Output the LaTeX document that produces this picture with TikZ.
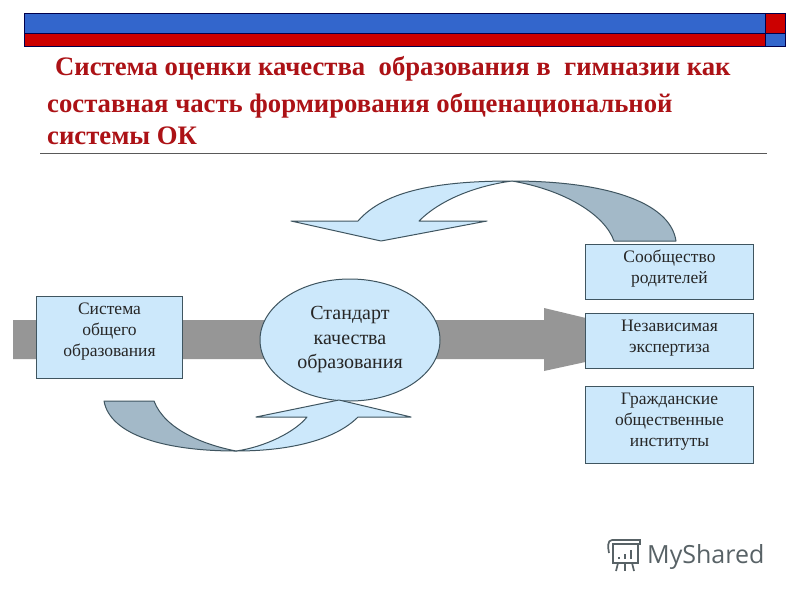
\documentclass[tikz,border=0pt]{standalone}
\usepackage{fontspec}
\setmainfont{Liberation Serif}
\newfontfamily\logofont{Open Sans}
\usetikzlibrary{shapes.geometric}
\definecolor{barblue}{HTML}{3366CC}
\definecolor{barred}{HTML}{CC0000}
\definecolor{titlered}{HTML}{AC1216}
\definecolor{boxblue}{HTML}{CCE8FB}
\definecolor{boxline}{HTML}{3F5560}
\definecolor{tailblue}{HTML}{A3B9C8}
\definecolor{bandgrey}{HTML}{969696}
\definecolor{logogrey}{HTML}{586266}
\newcommand{\boxpad}[1]{\rule[-#1pt]{0pt}{0pt}}
\begin{document}
\begin{tikzpicture}[x=1pt, y=-1pt, align=center,
			bar/.style={draw=black!70!blue, line width=0.7pt},
			titleline/.style={anchor=base west, inner sep=0pt, text=titlered, font=\fontsize{26.7}{30}\selectfont\bfseries},
			infobox/.style={draw=boxline, fill=boxblue, line width=1pt, minimum width=146pt, anchor=north west, inner sep=0pt, font=\fontsize{17.5}{21}\selectfont, text=black!85},
			rightbox/.style={infobox, minimum width=168pt},
			swoophead/.style={draw=boxline, fill=boxblue, line width=1pt, line join=round},
			swooptail/.style={draw=boxline, fill=tailblue, line width=1pt, line join=round},
			logoline/.style={draw=logogrey, line width=1.7pt}]
	\useasboundingbox (0,0) rectangle (800,600);
	\fill[white] (0,0) rectangle (800,600);

	\draw[bar, fill=barblue] (24,13) rectangle (765,33);
	\draw[bar, fill=barred] (24,33) rectangle (765,46);
	\draw[bar, fill=barred] (765,13) rectangle (785,33);
	\draw[bar, fill=barblue] (765,33) rectangle (785,46);

	\node[titleline] (title1) at (55,75) {Система оценки качества\ \ образования в\ \ гимназии как};
	\node[titleline] (title2) at (47,112) {составная часть формирования общенациональной};
	\node[titleline] (title3) at (47,144) {системы ОК};
	\coordinate (ruleL) at (40,153);
	\coordinate (ruleR) at (767,153);
	\draw[black!65, line width=0.9pt] (ruleL) -- (ruleR);

	\coordinate (bandL) at (13,320);
	\fill[bandgrey] (bandL) -- (544,320) -- (544,308) -- (590,319) -- (590,361) -- (544,371) -- (544,359) -- (13,359) -- cycle;

	\node[infobox, minimum height=82pt] (obshee) at (36,296) {Система\\общего\\образования\boxpad{16}};
	\node[draw=boxline, fill=boxblue, ellipse, line width=1pt, minimum width=180pt, minimum height=122pt, inner sep=0pt, font=\fontsize{20}{24.5}\selectfont, text=black!85] (standart) at (350,340) {Стандарт\\качества\\образования};

	\node[rightbox, minimum height=55pt] (roditeli) at (585,244) {Сообщество\\родителей\boxpad{11}};
	\node[rightbox, minimum height=55pt] (ekspertiza) at (585,313) {Независимая\\экспертиза\boxpad{9}};
	\node[rightbox, minimum height=77pt] (instituty) at (585,386) {Гражданские\\общественные\\институты\boxpad{11}};

	\draw[swoophead] (512,181) .. controls (440,181) and (385,190) .. (358,221) -- (291,221) -- (381,241) -- (487,221) -- (419,221) .. controls (440,200) and (475,186) .. (512,181) -- cycle;
	\draw[swooptail] (676,241) .. controls (670,200) and (600,181) .. (512,181) .. controls (565,190) and (605,215) .. (614,241) -- cycle;

	\draw[swoophead] (236,451) .. controls (290,451) and (335,440) .. (358,417) -- (411,417) -- (339,400) -- (256,417) -- (307,417) .. controls (295,432) and (265,447) .. (236,451) -- cycle;
	\draw[swooptail] (104,401) .. controls (110,435) and (165,451) .. (236,451) .. controls (205,445) and (165,430) .. (154,401) -- cycle;

	\node[anchor=base west, inner sep=0pt, text=logogrey, font=\fontsize{25}{25}\selectfont\logofont] (logo) at (647,563) {MyShared};
	\draw[logoline] (613,544) rectangle (638,563);
	\draw[logoline] (612,540) -- (640,540) -- (640,545);
	\draw[logoline] (612,540) .. controls (607,540) and (608,548) .. (609,553);
	\draw[logoline] (618,563) -- (616,571);
	\draw[logoline] (625,563) -- (625,571);
	\draw[logoline] (632,563) -- (634,571);
	\draw[logoline] (619,559) -- (619,557);
	\draw[logoline] (625,559) -- (625,554);
	\draw[logoline] (631,559) -- (631,550);
\end{tikzpicture}
\end{document}
